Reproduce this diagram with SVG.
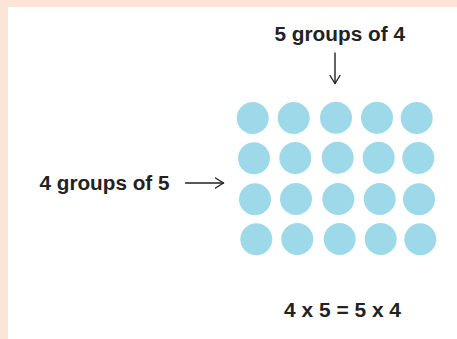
<svg xmlns="http://www.w3.org/2000/svg" width="457" height="339" viewBox="0 0 457 339">
<style>
.t{font-family:"Liberation Sans",Arial,sans-serif;font-weight:bold;font-size:20px;fill:#222}
.d{fill:#9ed9e9}
.c{stroke:#222;stroke-width:1.4;fill:none;stroke-linecap:round;stroke-linejoin:round}
</style>
<defs>
<marker id="ah" viewBox="0 0 10 12" refX="9" refY="6" markerWidth="10" markerHeight="12" markerUnits="userSpaceOnUse" orient="auto">
<path d="M1,1 L9,6 L1,11" fill="none" stroke="#222" stroke-width="1.4" stroke-linecap="round" stroke-linejoin="round"/>
</marker>
</defs>
<rect width="457" height="339" fill="#fde4d8"/>
<rect x="8" y="7" width="449" height="332" fill="#fff"/>
<g id="label-top"><text class="t" x="274.5" y="41" textLength="130.5" lengthAdjust="spacingAndGlyphs">5 groups of 4</text></g>
<g id="label-left"><text class="t" x="39.5" y="190" textLength="130" lengthAdjust="spacingAndGlyphs">4 groups of 5</text></g>
<g id="label-bottom"><text class="t" x="284" y="316.5" font-size="21" textLength="117" lengthAdjust="spacingAndGlyphs" style="font-size:21px">4 x 5 = 5 x 4</text></g>
<g id="dots">
<circle class="d" cx="252.7" cy="118" r="16"/><circle class="d" cx="293.7" cy="118" r="16"/><circle class="d" cx="336" cy="117.7" r="16"/><circle class="d" cx="377" cy="117.7" r="16"/><circle class="d" cx="416.7" cy="118" r="16"/>
<circle class="d" cx="254" cy="158.3" r="16"/><circle class="d" cx="295.3" cy="158" r="16"/><circle class="d" cx="337.7" cy="157.7" r="16"/><circle class="d" cx="378.7" cy="157.7" r="16"/><circle class="d" cx="418.3" cy="158" r="16"/>
<circle class="d" cx="255" cy="199.3" r="16"/><circle class="d" cx="296" cy="199" r="16"/><circle class="d" cx="338.3" cy="199" r="16"/><circle class="d" cx="379.7" cy="199" r="16"/><circle class="d" cx="419" cy="199.3" r="16"/>
<circle class="d" cx="256.3" cy="239.3" r="16"/><circle class="d" cx="297.3" cy="239" r="16"/><circle class="d" cx="339.7" cy="239" r="16"/><circle class="d" cx="380.7" cy="239" r="16"/><circle class="d" cx="420.3" cy="239.3" r="16"/>
</g>
<g id="connectors">
<path class="c" d="M335,53 L335,83.5" marker-end="url(#ah)"/>
<path class="c" d="M185.5,183 L223.5,183" marker-end="url(#ah)"/>
</g>
</svg>
